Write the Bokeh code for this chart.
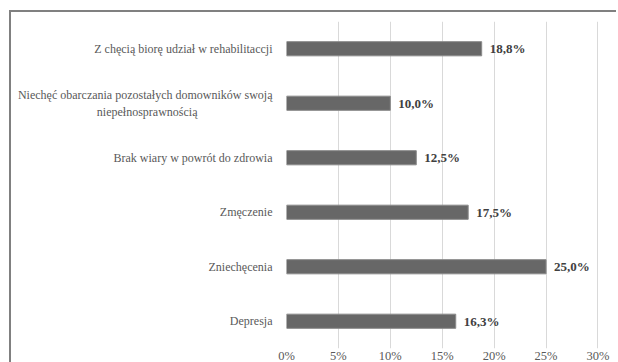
from bokeh.plotting import figure
from bokeh.models import ColumnDataSource, FactorRange, Range1d, FixedTicker, LabelSet
from bokeh.embed import file_html
from bokeh.resources import INLINE

NBSP = "\u00a0"
categories = [
    "Z chęcią biorę udział w rehabilitaccji",
    "Niechęć obarczania pozostałych domowników swoją\nniepełnosprawnością" + NBSP * 25,
    "Brak wiary w powrót do zdrowia",
    "Zmęczenie",
    "Zniechęcenia",
    "Depresja",
]
values = [18.8, 10.0, 12.5, 17.5, 25.0, 16.3]
x_ticks = [0, 5, 10, 15, 20, 25, 30]

labels = [f"{v:.1f}".replace(".", ",") + "%" for v in values]
src = ColumnDataSource(dict(cat=categories, val=values, lab=labels))

FONT = "Liberation Serif"

p = figure(
    width=607, height=353,
    y_range=FactorRange(*list(reversed(categories)), range_padding=0),
    x_range=Range1d(0, 30.05),
    output_backend="svg", toolbar_location=None,
    min_border_left=275, min_border_right=20, min_border_top=9, min_border_bottom=5,
)
p.styles = {
    "margin-left": "9px", "margin-top": "10px", "margin-bottom": "-3px",
    "border-left": "2px solid #808080", "border-top": "2px solid #808080",
}
p.outline_line_color = None

p.hbar(y="cat", right="val", left=0, height=0.26, source=src,
       fill_color="#676767", line_color="#8a8a8a", line_width=1)

p.add_layout(LabelSet(x="val", y="cat", text="lab", source=src, x_offset=8,
                      text_font=FONT, text_font_size="13px", text_font_style="bold",
                      text_color="#404040", text_baseline="middle"))

p.xaxis.ticker = FixedTicker(ticks=x_ticks)
p.xaxis.major_label_overrides = {t: f"{t}%" for t in x_ticks}
p.xaxis.axis_line_color = None
p.xaxis.major_tick_line_color = None
p.xaxis.minor_tick_line_color = None
p.xaxis.major_label_standoff = -6
p.xaxis.major_label_text_font = FONT
p.xaxis.major_label_text_font_size = "12.5px"
p.xaxis.major_label_text_color = "#595959"

p.yaxis.axis_line_color = None
p.yaxis.major_tick_line_color = None
p.yaxis.major_label_standoff = 8
p.yaxis.major_label_text_font = FONT
p.yaxis.major_label_text_font_size = "12px"
p.yaxis.major_label_text_color = "#595959"

p.ygrid.grid_line_color = None
p.xgrid.grid_line_color = "#d9d9d9"
p.xgrid.ticker = FixedTicker(ticks=x_ticks)

open("out.html", "w").write(file_html(p, INLINE))
